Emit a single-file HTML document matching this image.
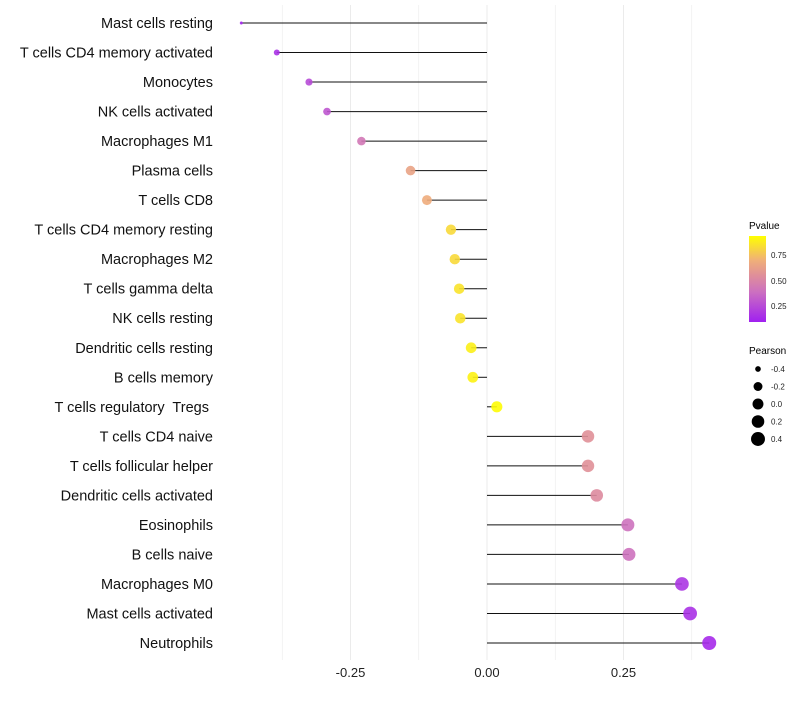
<!DOCTYPE html>
<html><head><meta charset="utf-8"><style>
body{margin:0;background:#fff;font-family:"Liberation Sans",Arial,sans-serif}
svg text{font-family:"Liberation Sans",Arial,sans-serif;white-space:pre}
</style></head><body>
<svg id="chart" width="800" height="700">
<defs><linearGradient id="pg" x1="0" y1="1" x2="0" y2="0">
<stop offset="0" stop-color="#a020f0"/><stop offset="0.35" stop-color="#cc70c0"/><stop offset="0.55" stop-color="#e09098"/><stop offset="0.72" stop-color="#f0b078"/><stop offset="1" stop-color="#ffff00"/></linearGradient></defs>
<g id="grid"></g>
<g id="marks"></g>
<g id="ylab"></g>
<g id="xlab"></g>
<g>
<text x="749" y="229" font-size="10" fill="#000">Pvalue</text>
<rect x="749" y="236" width="17" height="86" fill="url(#pg)"/>
<text x="771" y="258" font-size="8" fill="#222">0.75</text>
<text x="771" y="284" font-size="8" fill="#222">0.50</text>
<text x="771" y="309" font-size="8" fill="#222">0.25</text>
</g>
<g id="sizeleg">
<text x="749" y="354" font-size="10" fill="#000">Pearson</text>
</g>
</svg>
<script>
const categories=["Mast cells resting","T cells CD4 memory activated","Monocytes","NK cells activated","Macrophages M1","Plasma cells","T cells CD8","T cells CD4 memory resting","Macrophages M2","T cells gamma delta","NK cells resting","Dendritic cells resting","B cells memory","T cells regulatory  Tregs ","T cells CD4 naive","T cells follicular helper","Dendritic cells activated","Eosinophils","B cells naive","Macrophages M0","Mast cells activated","Neutrophils"];
const pearson=[-0.450,-0.385,-0.326,-0.293,-0.230,-0.140,-0.110,-0.066,-0.059,-0.051,-0.049,-0.029,-0.026,0.018,0.185,0.185,0.201,0.258,0.260,0.357,0.372,0.407];
const pvalues=[0.05,0.1,0.2,0.25,0.4,0.65,0.7,0.85,0.85,0.88,0.88,0.92,0.93,0.96,0.55,0.55,0.52,0.36,0.36,0.12,0.1,0.07];
const xTicks=[-0.25,0,0.25];
const xTickLabels=["-0.25","0.00","0.25"];
const legendSizes=[-0.4,-0.2,0.0,0.2,0.4];
const legendLabels=["-0.4","-0.2","0.0","0.2","0.4"];
const NS="http://www.w3.org/2000/svg";
const xs=v=>487+v*546;
const ys=i=>23+i*(620/(categories.length-1));
const rs=v=>1.5+Math.sqrt(35.3*Math.max(0,v+0.45));
function col(p){const st=[[0.03,[160,32,240]],[0.35,[204,112,192]],[0.55,[224,144,152]],[0.72,[240,176,120]],[0.97,[255,255,0]]];
if(p<=st[0][0])return`rgb(${st[0][1]})`;for(let k=1;k<st.length;k++){if(p<=st[k][0]){const t=(p-st[k-1][0])/(st[k][0]-st[k-1][0]);const a=st[k-1][1],b=st[k][1];return`rgb(${a.map((c,j)=>Math.round(c+(b[j]-c)*t)).join(",")})`;}}return"rgb(255,255,0)";}
function mk(t,a,parent){const e=document.createElementNS(NS,t);for(const k in a)e.setAttribute(k,a[k]);parent.appendChild(e);return e;}
const grid=document.getElementById("grid");
for(let g=-0.375;g<=0.376;g+=0.125){const l=mk("line",{x1:xs(g),x2:xs(g),y1:5,y2:660,stroke:"#ebebeb","stroke-width":Math.abs(g*8)%2<0.01?1:0.6},grid);

}
const marks=document.getElementById("marks"),ylab=document.getElementById("ylab"),xlab=document.getElementById("xlab");
categories.forEach((c,i)=>{const y=ys(i);
const ln=mk("line",{x1:xs(0),x2:xs(pearson[i]),y1:y,y2:y,stroke:"#111","stroke-width":1},marks);


const ci=mk("circle",{cx:xs(pearson[i]),cy:y,r:rs(pearson[i]),fill:col(pvalues[i]),"fill-opacity":0.9},marks);


const t=mk("text",{x:213,y:y+5,"text-anchor":"end","font-size":14.5,fill:"#111"},ylab);t.textContent=c;

});
xTicks.forEach((v,i)=>{const t=mk("text",{x:xs(v),y:677,"text-anchor":"middle","font-size":13,fill:"#222"},xlab);t.textContent=xTickLabels[i];

});
const sl=document.getElementById("sizeleg");
legendSizes.forEach((v,i)=>{const y=369+i*17.5;
const c=mk("circle",{cx:758,cy:y,r:rs(v),fill:"#000"},sl);


const t=mk("text",{x:771,y:y+3,"font-size":8,fill:"#222"},sl);t.textContent=legendLabels[i];

});
</script>
</body></html>
